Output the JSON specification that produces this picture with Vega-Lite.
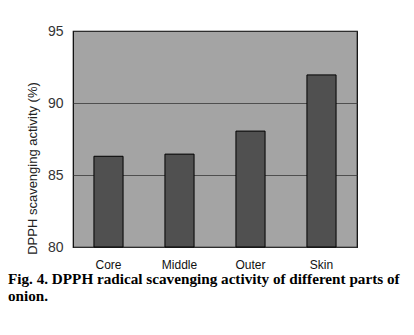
{
  "$schema": "https://vega.github.io/schema/vega-lite/v6.json",
  "autosize": "none",
  "width": 284,
  "height": 216,
  "padding": {"left": 73, "top": 31, "right": 57, "bottom": 88},
  "background": "white",
  "data": {"values": [
    {"part": "Core", "activity": 86.3},
    {"part": "Middle", "activity": 86.45},
    {"part": "Outer", "activity": 88.05},
    {"part": "Skin", "activity": 91.95}
  ]},
  "title": {
    "text": ["Fig. 4. DPPH radical scavenging activity of different parts of", "onion."],
    "orient": "bottom",
    "anchor": "start",
    "frame": "group",
    "dx": -65,
    "offset": 2,
    "font": "Liberation Serif",
    "fontSize": 15.2,
    "fontWeight": "bold",
    "color": "black",
    "lineHeight": 17
  },
  "config": {
    "view": {"fill": "#a4a4a4", "stroke": "black", "strokeWidth": 1.2},
    "font": "Liberation Sans"
  },
  "mark": {"type": "bar", "color": "#505050", "stroke": "black", "strokeWidth": 1},
  "encoding": {
    "x": {
      "field": "part", "type": "nominal", "sort": null,
      "scale": {"paddingInner": 0.59, "paddingOuter": 0.295},
      "axis": {"title": null, "labelAngle": 0, "labelFont": "Liberation Sans", "labelFontSize": 12, "labelColor": "#111", "ticks": false, "domain": false, "labelPadding": 12}
    },
    "y": {
      "field": "activity", "type": "quantitative",
      "scale": {"domain": [80, 95], "zero": false, "nice": false},
      "axis": {
        "title": "DPPH scavenging activity (%)",
        "titleFont": "Liberation Sans", "titleFontSize": 13, "titleFontWeight": "normal", "titleColor": "#222",
        "titlePadding": 8,
        "titleY": 137,
        "values": [80, 85, 90, 95],
        "labelFont": "Liberation Sans", "labelFontSize": 14, "labelColor": "#333", "labelPadding": 10,
        "ticks": false, "domain": false,
        "grid": true, "gridColor": "#3a3a3a", "gridWidth": 1, "gridOpacity": 0.8
      }
    },
    "y2": {"datum": 80}
  }
}
